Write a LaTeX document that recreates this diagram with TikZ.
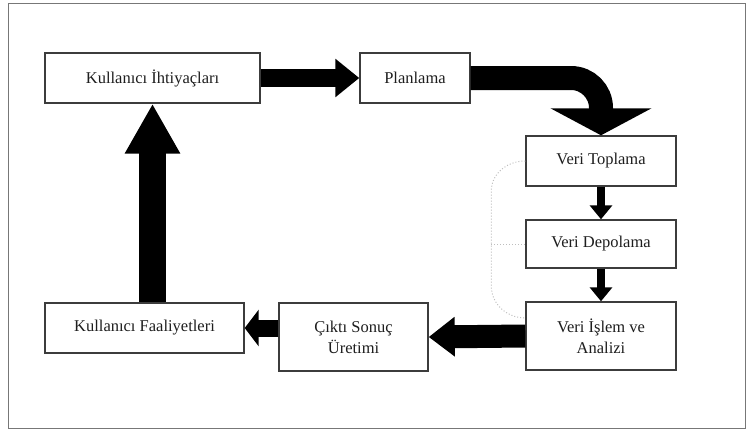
\documentclass[tikz,border=0pt]{standalone}
\usepackage{fontspec}
\setmainfont{Liberation Serif}
\usepackage{tikz}
\usetikzlibrary{arrows.meta,calc}
\definecolor{BoxLine}{RGB}{60,60,60}
\definecolor{TxtCol} {RGB}{30,30,30}
\definecolor{DotCol} {RGB}{190,190,190}
\tikzset{
  nd_box/.style={rectangle,draw=BoxLine,line width=1.4pt,fill=white,align=center,text=TxtCol,
    font=\fontsize{16.5}{21}\selectfont,inner sep=2pt},
  arr_fat/.style={-{Triangle[length=24pt,width=37pt]},line width=18pt},
  arr_med/.style={-{Triangle[length=26pt,width=38pt]},line width=23pt},
  arr_lft/.style={-{Triangle[length=14pt,width=36pt]},line width=17pt},
  arr_up/.style={-{Triangle[length=50pt,width=52pt]},line width=27pt},
  arr_thin/.style={-{Triangle[length=14pt,width=22pt]},line width=8pt},
  arr_bend/.style={-{Triangle[length=27pt,width=100pt]},line width=24pt,rounded corners=30pt},
}
\begin{document}
\begin{tikzpicture}[x=1pt,y=-1pt]
\useasboundingbox (0,0) rectangle (749,436);
\draw[BoxLine!70,line width=1pt](8,4) rectangle (745,428);
% top row
\node[nd_box,minimum width=215pt,minimum height=50pt] at (152.5,78)(KI){Kullanıcı İhtiyaçları};
\node[nd_box,minimum width=110pt,minimum height=50pt] at (415,78)(PL){Planlama};
% right column
\node[nd_box,minimum width=150pt,minimum height=50pt] at (601,161)(VT){Veri Toplama};
\node[nd_box,minimum width=150pt,minimum height=48pt] at (601,244)(VD){Veri Depolama};
\node[nd_box,minimum width=150pt,minimum height=68pt] at (601,336)(VI){Veri İşlem ve\\Analizi};
% bottom row
\node[nd_box,minimum width=149pt,minimum height=68pt] at (353.5,337)(CS){Çıktı Sonuç\\Üretimi};
\node[nd_box,minimum width=199pt,minimum height=50pt] at (144.5,328)(KF){Kullanıcı Faaliyetleri};
% arrows
\draw[arr_fat](KI.east)--(PL.west);
\draw[arr_bend](PL.east)-|(VT.north);
\draw[arr_thin](VT.south)--(VD.north);
\draw[arr_thin](VD.south)--(VI.north);
\draw[arr_med](VI.west)--(CS.east);
\draw[arr_lft](CS.west |- KF.east)--(KF.east);
\draw[arr_up](KI.south |- KF.north)--(KI.south);
% faint dotted link
\draw[DotCol,dotted,line width=1pt](VT.west) to[out=180,in=90] ($(VT.west)+(-34,30)$)
  -- ($(VI.west)+(-34,-50)$) to[out=-90,in=180] ($(VI.west)+(0,-18)$);
\draw[DotCol,dotted,line width=1pt]($(VD.west)+(-34,0)$)--(VD.west);
\end{tikzpicture}
\end{document}
